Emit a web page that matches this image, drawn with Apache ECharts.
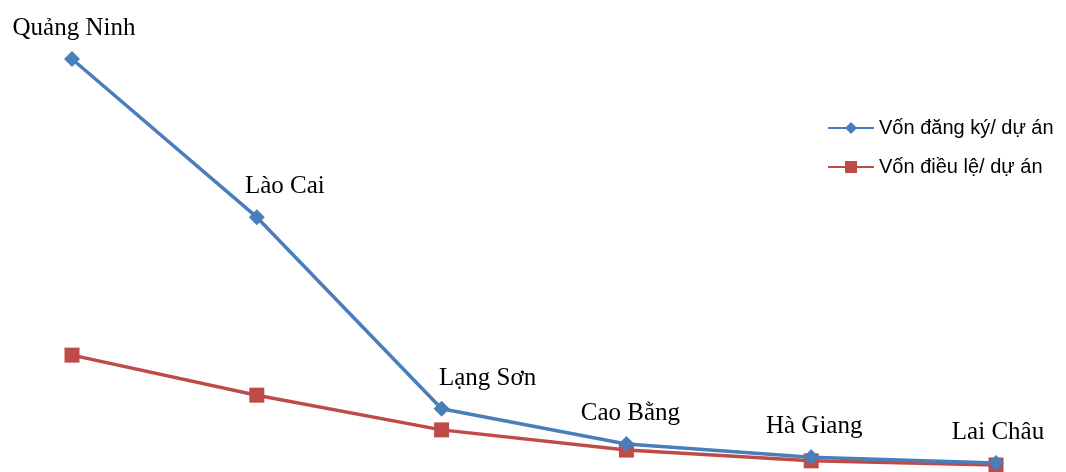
<!DOCTYPE html>
<html>
<head>
<meta charset="utf-8">
<script src="https://cdn.jsdelivr.net/npm/echarts@6/dist/echarts.min.js"></script>
<style>
  html, body { margin: 0; padding: 0; background: #fff; }
  #main { width: 1066px; height: 472px; }
</style>
</head>
<body>
<div id="main"></div>
<script>
// tỉnh
var provinces = ['Quảng Ninh', 'Lào Cai', 'Lạng Sơn', 'Cao Bằng', 'Hà Giang', 'Lai Châu'];
// vốn đăng ký / dự án
var registered = [100, 61.7, 15.3, 6.8, 3.6, 2.2];
// vốn điều lệ / dự án
var charter = [28.3, 18.6, 10.2, 5.3, 2.7, 1.7];
// lệch nhãn theo x
var labelShiftX = [2, 28, 46, 4, 3, 2];

var myChart = echarts.init(document.getElementById('main'));
myChart.setOption({
    animation: false,
    grid: { left: 72, right: 70, top: 59, bottom: 0 },
    legend: {
        orient: 'vertical',
        left: 822,
        top: 113,
        itemWidth: 46,
        itemHeight: 15,
        itemGap: 19,
        textStyle: { fontFamily: 'Liberation Sans, Arial', fontSize: 20, color: '#000' },
        data: ['Vốn đăng ký/ dự án', 'Vốn điều lệ/ dự án']
    },
    xAxis: {
        type: 'category',
        data: provinces,
        boundaryGap: false,
        show: false
    },
    yAxis: { type: 'value', min: 0, max: 100, show: false },
    series: [{
        name: 'Vốn đăng ký/ dự án',
        type: 'line',
        symbol: 'diamond',
        symbolSize: 16,
        color: '#4a7ebb',
        lineStyle: { width: 3.5 },
        data: registered.map(function (v, i) {
            return {
                value: v,
                label: { offset: [labelShiftX[i], 0] }
            };
        }),
        label: {
            show: true,
            position: 'top',
            distance: 10,
            formatter: function (p) { return p.name; },
            fontFamily: 'Liberation Serif, Times New Roman, serif',
            fontSize: 25,
            color: '#000'
        },
        z: 3
    }, {
        name: 'Vốn điều lệ/ dự án',
        type: 'line',
        symbol: 'rect',
        symbolSize: 15,
        color: '#be4b48',
        lineStyle: { width: 3.5 },
        data: charter,
        z: 2
    }]
});
</script>
</body>
</html>
